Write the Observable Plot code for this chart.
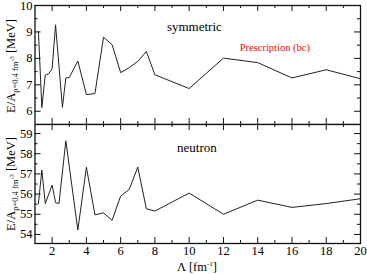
<!DOCTYPE html>
<html><head><meta charset="utf-8">
<script src="https://cdn.jsdelivr.net/npm/d3@7"></script>
<script src="https://cdn.jsdelivr.net/npm/@observablehq/plot@0.6"></script>
<style>
body{margin:0;background:#fff;}
#chart{position:relative;width:367px;height:274px;overflow:hidden;background:#fff;}
#chart svg{position:absolute;left:0;overflow:visible;}
#chart svg, #chart svg text{font-family:"Liberation Serif","DejaVu Serif",serif !important;}
</style></head><body><div id="chart"></div>
<script>
// symmetric matter
const lambdaSym = [1.2,1.4,1.6,1.8,2.0,2.2,2.6,2.8,3.0,3.5,4.0,4.5,5.0,5.5,6.0,6.5,7.0,7.5,8,10,12,14,16,18,20];
const eSym = [9.02,6.14,7.37,7.42,7.61,9.27,6.15,7.26,7.28,7.9,6.63,6.67,8.8,8.52,7.46,7.65,7.89,8.26,7.38,6.86,8.01,7.84,7.26,7.57,7.23];
// neutron matter
const lambdaNeu = [1.2,1.4,1.6,2.0,2.2,2.4,2.8,3.5,4.0,4.5,5.0,5.5,6.0,6.5,7.0,7.5,8,10,12,14,16,18,20];
const eNeu = [55.53,57.19,55.53,56.45,55.58,55.53,58.64,54.22,57.33,54.97,55.07,54.7,55.9,56.23,57.34,55.27,55.16,56.05,55.0,55.7,55.34,55.53,55.77];

const xMajor = [2,4,6,8,10,12,14,16,18,20];
const xMinor = [3,5,7,9,11,13,15,17,19];
const yTopMajor = [6,7,8,9,10];
const yTopMinor = [6.5,7.5,8.5,9.5];
const yBotMajor = [54,55,56,57,58,59];
const yBotMinor = [54.5,55.5,56.5,57.5,58.5];

const topTexts = [
  {text:"symmetric", x:10.3, y:9.2, color:"black", size:13},
  {text:"Prescription (bc)", x:15.0, y:8.42, color:"red", size:10.5}
];
const botTexts = [
  {text:"neutron", x:10.45, y:58.3, color:"black", size:13}
];

const W = 367, ML = 34.5, MR = 7;
const innerW = W - ML - MR;
const font = "Liberation Serif";

function tickRules(yMaj, yMin, innerH) {
  const s = {stroke:"#111", strokeWidth:1};
  return [
    Plot.ruleX(xMajor, {...s, insetBottom: innerH - 6}),
    Plot.ruleX(xMajor, {...s, insetTop: innerH - 6}),
    Plot.ruleX(xMinor, {...s, insetBottom: innerH - 3}),
    Plot.ruleX(xMinor, {...s, insetTop: innerH - 3}),
    Plot.ruleY(yMaj, {...s, insetRight: innerW - 6}),
    Plot.ruleY(yMaj, {...s, insetLeft: innerW - 6}),
    Plot.ruleY(yMin, {...s, insetRight: innerW - 3}),
    Plot.ruleY(yMin, {...s, insetLeft: innerW - 3})
  ];
}

const symData = lambdaSym.map((x, i) => ({x, y: eSym[i]}));
const neuData = lambdaNeu.map((x, i) => ({x, y: eNeu[i]}));

const topH = 124, topMT = 5;
const topPlot = Plot.plot({
  width: W, height: topH, marginTop: topMT, marginBottom: 0, marginLeft: ML, marginRight: MR,
  x: {domain: [1, 20], axis: null},
  y: {domain: [5.5, 10]},
  style: {fontFamily: font, fontSize: "12.5px", background: "white", color: "black"},
  marks: [
    Plot.axisY(yTopMajor, {tickSize: 0, tickPadding: 2.5, label: null, fontSize: 12.5}),
    ...tickRules(yTopMajor, yTopMinor, topH - topMT),
    Plot.line(symData, {x: "x", y: "y", stroke: "#222", strokeWidth: 1}),
    Plot.frame({stroke: "#111", strokeWidth: 1.3}),
    Plot.text(topTexts, {x: "x", y: "y", text: "text", fill: "color", fontSize: "size"})
  ]
});
topPlot.style.top = "0px";

const botH = 150, botMB = 31;
const botPlot = Plot.plot({
  width: W, height: botH, marginTop: 0, marginBottom: botMB, marginLeft: ML, marginRight: MR,
  x: {domain: [1, 20]},
  y: {domain: [53.55, 59.45]},
  style: {fontFamily: font, fontSize: "12.5px", background: "white", color: "black"},
  marks: [
    Plot.axisY(yBotMajor, {tickSize: 0, tickPadding: 2.5, label: null, fontSize: 12.5}),
    Plot.axisX(xMajor, {tickSize: 0, tickPadding: 3, label: null, fontSize: 12.5}),
    ...tickRules(yBotMajor, yBotMinor, botH - botMB),
    Plot.line(neuData, {x: "x", y: "y", stroke: "#222", strokeWidth: 1}),
    Plot.frame({stroke: "#111", strokeWidth: 1.3}),
    Plot.text(botTexts, {x: "x", y: "y", text: "text", fill: "color", fontSize: "size"})
  ]
});
botPlot.style.top = topH + "px";

const chart = document.getElementById("chart");
chart.appendChild(topPlot);
chart.appendChild(botPlot);

function yLabel(svg, cx, cy) {
  const t = d3.select(svg).append("text")
    .attr("transform", `translate(${cx},${cy}) rotate(-90)`)
    .attr("text-anchor", "middle")
    .attr("font-size", 12.5)
    .attr("fill", "black");
  t.append("tspan").text("E/A");
  t.append("tspan").attr("dy", 3).attr("font-size", 8.5).text("ρ=0.4 fm");
  t.append("tspan").attr("dy", -4).attr("font-size", 6.5).text("-3");
  t.append("tspan").attr("dy", 1).text(" [MeV]");
}
yLabel(topPlot, 15, 66);
yLabel(botPlot, 15, 184 - topH);

const xl = d3.select(botPlot).append("text")
  .attr("x", 197).attr("y", 271 - topH)
  .attr("text-anchor", "middle")
  .attr("font-size", 12.5).attr("fill", "black");
xl.append("tspan").text("Λ [fm");
xl.append("tspan").attr("dy", -5).attr("font-size", 7).text("-1");
xl.append("tspan").attr("dy", 5).text("]");
</script></body></html>
